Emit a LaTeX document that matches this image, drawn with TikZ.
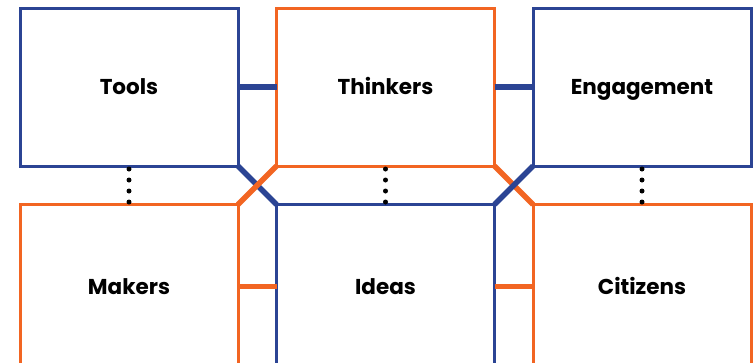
\documentclass[tikz,border=0pt]{standalone}
\usepackage{fontspec}
\setmainfont{Poppins}
\usetikzlibrary{positioning}
\definecolor{navy}{HTML}{2B4494}
\definecolor{flame}{HTML}{F26522}

\begin{document}
\begin{tikzpicture}[x=1pt,y=-1pt,
    node distance=38.5pt and 38.5pt,
    box/.style={draw,line width=3pt,minimum width=218pt,minimum height=158pt,
      inner sep=0pt,outer sep=0pt,text height=15pt,text depth=0pt,
      font=\fontsize{21.5}{24}\selectfont\bfseries},
    lowbox/.style={box,minimum height=164pt},
    link/.style={line width=5.5pt},
    dots/.style={line width=5pt,line cap=round,dash pattern=on 0pt off 11pt,
      shorten <=3pt,shorten >=1.5pt}]
    \useasboundingbox (0,0) rectangle (755,362);
    \clip (0,0) rectangle (755,362);
    % top row
    \node[box,navy,text=black] (tools) at (129,87) {Tools};
    \node[box,flame,text=black,right=of tools] (thinkers) {Thinkers};
    \node[box,navy,text=black,right=of thinkers] (engage) {Engagement};
    % bottom row
    \node[lowbox,flame,text=black,below=of tools] (makers) {Makers};
    \node[lowbox,navy,text=black,below=of thinkers] (ideas) {Ideas};
    \node[lowbox,flame,text=black,below=of engage] (citizens) {Citizens};
    % straight links
    \draw[link,navy] (tools.east) -- (thinkers.west);
    \draw[link,navy] (thinkers.east) -- (engage.west);
    \draw[link,flame] (makers.east) -- (ideas.west);
    \draw[link,flame] (ideas.east) -- (citizens.west);
    % crossings
    \draw[link,navy] (tools.south east) -- (ideas.north west);
    \draw[link,flame] (makers.north east) -- (thinkers.south west);
    \draw[link,flame] (thinkers.south east) -- (citizens.north west);
    \draw[link,navy] (ideas.north east) -- (engage.south west);
    % dotted ties
    \foreach \up/\down in {tools/makers,thinkers/ideas,engage/citizens}
      \draw[dots] (\up.south) -- (\down.north);
\end{tikzpicture}
\end{document}
